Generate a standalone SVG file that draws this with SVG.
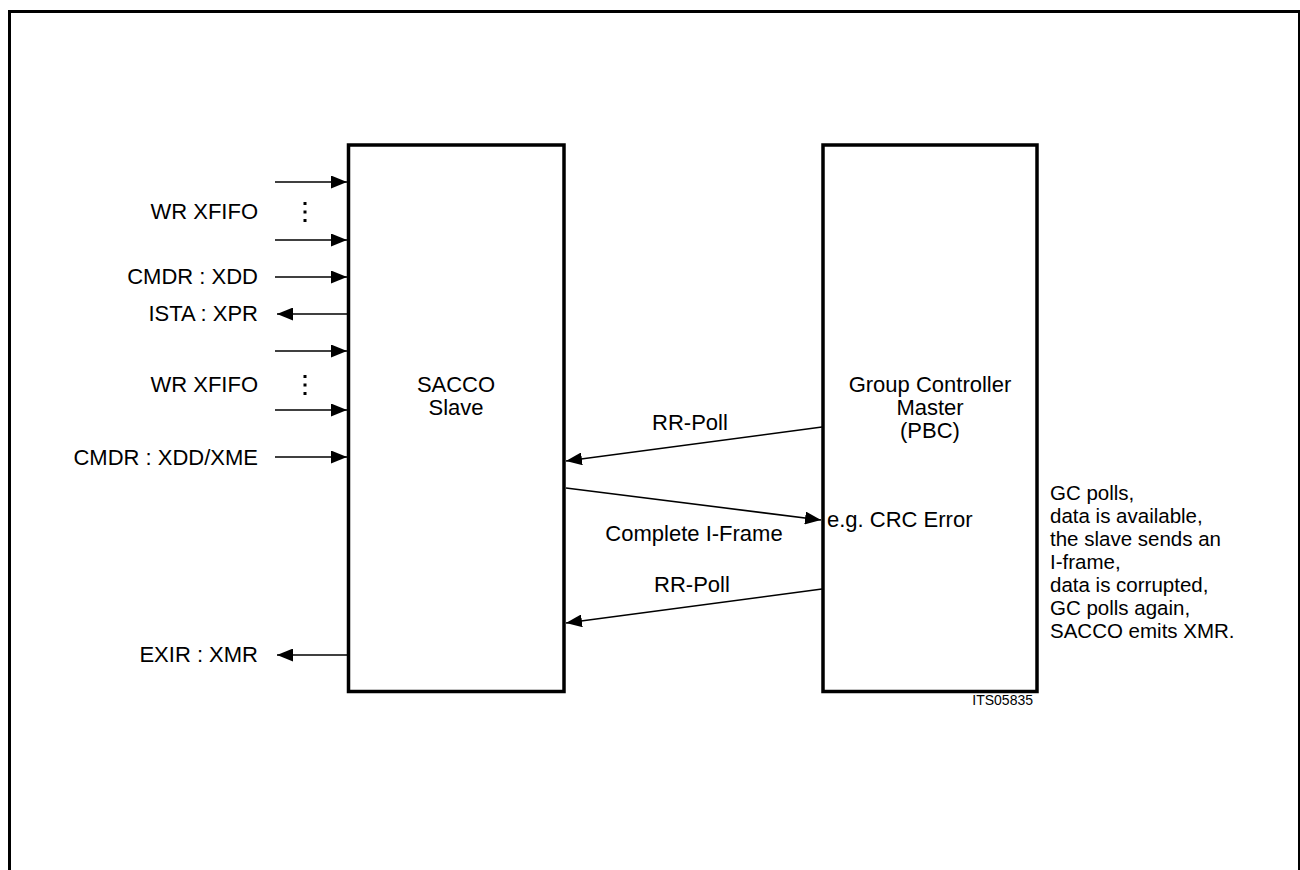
<svg xmlns="http://www.w3.org/2000/svg" width="1300" height="870" viewBox="0 0 1300 870">
<style>
text{font-family:"Liberation Sans",Arial,sans-serif;font-size:22px;fill:#000}
.box{fill:#fff;stroke:#000;stroke-width:3.5}
.ln{stroke:#000;stroke-width:1.6;fill:none}
.r{text-anchor:end}
.m{text-anchor:middle}
.sm{font-size:14px}
.nt{font-size:20.5px}
</style>
<defs>
<marker id="ah" markerUnits="userSpaceOnUse" markerWidth="17" markerHeight="13" refX="16" refY="6.5" orient="auto">
<path d="M0,0 L16,6.5 L0,13 Z" fill="#000"/>
</marker>
</defs>
<rect width="1300" height="870" fill="#fff"/>
<path d="M9.5,872 V11.5 H1299.5 V872" fill="none" stroke="#000" stroke-width="3"/>
<g id="sacco">
<rect class="box" x="348.5" y="145" width="215.5" height="546.5"/>
<text class="m" x="456" y="392">SACCO</text>
<text class="m" x="456" y="415">Slave</text>
</g>
<g id="gc">
<rect class="box" x="823" y="145" width="214" height="546.5"/>
<text class="m" x="930" y="392">Group Controller</text>
<text class="m" x="930" y="415">Master</text>
<text class="m" x="930" y="438">(PBC)</text>
<text x="827" y="527">e.g. CRC Error</text>
</g>
<g id="labels">
<text class="r" x="258" y="219">WR XFIFO</text>
<text class="r" x="258" y="284">CMDR : XDD</text>
<text class="r" x="258" y="321">ISTA : XPR</text>
<text class="r" x="258" y="392">WR XFIFO</text>
<text class="r" x="258" y="465">CMDR : XDD/XME</text>
<text class="r" x="258" y="662">EXIR : XMR</text>
<g fill="#000">
<rect x="303.5" y="202" width="3" height="3"/>
<rect x="303.5" y="210.5" width="3" height="3"/>
<rect x="303.5" y="219" width="3" height="3"/>
<rect x="303.5" y="375" width="3" height="3"/>
<rect x="303.5" y="383.5" width="3" height="3"/>
<rect x="303.5" y="392" width="3" height="3"/>
</g>
</g>
<g id="note">
<text class="nt" x="1050" y="500">GC polls,</text>
<text class="nt" x="1050" y="523">data is available,</text>
<text class="nt" x="1050" y="546">the slave sends an</text>
<text class="nt" x="1050" y="569">I-frame,</text>
<text class="nt" x="1050" y="592">data is corrupted,</text>
<text class="nt" x="1050" y="615">GC polls again,</text>
<text class="nt" x="1050" y="638">SACCO emits XMR.</text>
<text class="r sm" x="1033" y="705">ITS05835</text>
</g>
<g id="connectors">
<line class="ln" x1="275" y1="182" x2="347" y2="182" marker-end="url(#ah)"/>
<line class="ln" x1="275" y1="240" x2="347" y2="240" marker-end="url(#ah)"/>
<line class="ln" x1="275" y1="277" x2="347" y2="277" marker-end="url(#ah)"/>
<line class="ln" x1="347" y1="314" x2="277" y2="314" marker-end="url(#ah)"/>
<line class="ln" x1="275" y1="351" x2="347" y2="351" marker-end="url(#ah)"/>
<line class="ln" x1="275" y1="410" x2="347" y2="410" marker-end="url(#ah)"/>
<line class="ln" x1="275" y1="457" x2="347" y2="457" marker-end="url(#ah)"/>
<line class="ln" x1="347" y1="655" x2="277" y2="655" marker-end="url(#ah)"/>
<line class="ln" x1="822" y1="427" x2="566" y2="461" marker-end="url(#ah)"/>
<line class="ln" x1="566" y1="488" x2="821" y2="520" marker-end="url(#ah)"/>
<line class="ln" x1="822" y1="589" x2="566" y2="623" marker-end="url(#ah)"/>
<text class="m" x="690" y="430">RR-Poll</text>
<text class="m" x="694" y="541">Complete I-Frame</text>
<text class="m" x="692" y="592">RR-Poll</text>
</g>
</svg>
